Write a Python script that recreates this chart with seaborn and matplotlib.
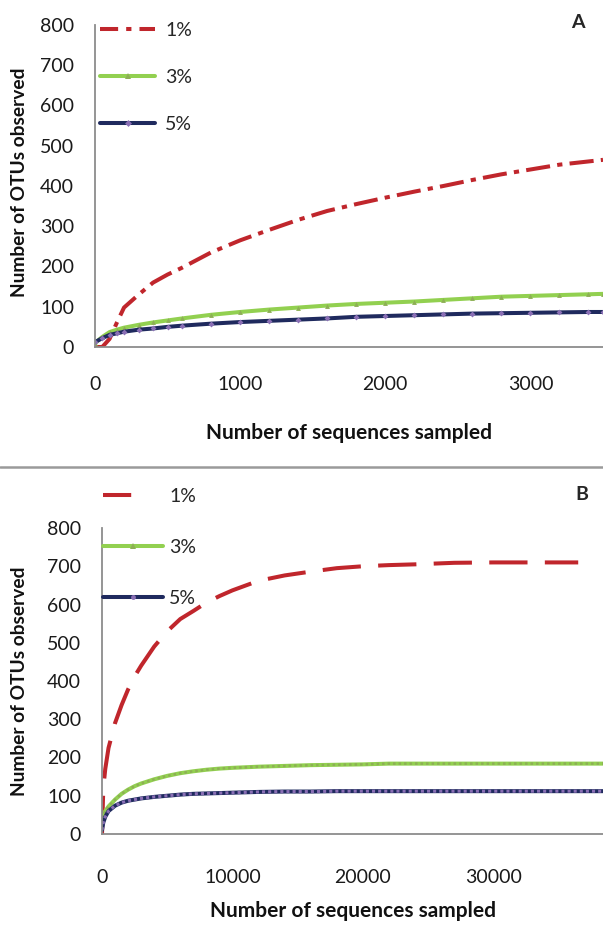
import matplotlib
matplotlib.use("Agg")
import matplotlib.pyplot as plt
import seaborn as sns
from matplotlib.lines import Line2D

# ---------------- data ----------------
a_x = [0, 50, 100, 150, 200, 300, 400, 500, 600, 800, 1000, 1200, 1400, 1600,
       1800, 2000, 2200, 2400, 2600, 2800, 3000, 3200, 3400, 3500]
a_1pct = [0, 0, 20, 60, 98, 130, 160, 180, 197, 235, 265, 291, 316, 338,
          355, 371, 386, 400, 415, 429, 441, 453, 461, 465]
a_3pct = [10, 25, 37, 43, 48, 55, 61, 66, 71, 80, 87, 93, 98, 103,
          107, 110, 113, 117, 121, 125, 127, 129, 131, 132]
a_5pct = [12, 22, 30, 34, 38, 43, 46, 50, 53, 58, 62, 65, 68, 71,
          75, 77, 79, 81, 83, 84, 85, 86, 87, 87]

b_x = [0, 100, 250, 500, 1000, 1500, 2000, 2500, 3000, 4000, 5000, 6000, 7000,
       8000, 9000, 10000, 12000, 14000, 16000, 18000, 20000, 22000, 24000,
       27000, 30000, 33000, 36500, 38400]
b_1pct = [0, 120, 170, 225, 290, 337, 378, 412, 440, 490, 530, 562, 583,
          605, 622, 637, 662, 676, 686, 695, 700, 703, 705,
          709, 710, 710, 710, None]
b_3pct = [40, 50, 60, 72, 90, 105, 116, 125, 132, 143, 152, 159, 164,
          168, 171, 173, 176, 178, 180, 181, 182, 184, 184,
          184, 184, 184, 184, 184]
b_5pct = [10, 30, 45, 60, 74, 82, 87, 90, 93, 97, 100, 103, 105,
          106, 107, 108, 110, 111, 111, 112, 112, 112, 112,
          112, 112, 112, 112, 112]

series_labels = ["1%", "3%", "5%"]
y_ticks = [0, 100, 200, 300, 400, 500, 600, 700, 800]
a_xticks = [0, 1000, 2000, 3000]
b_xticks = [0, 10000, 20000, 30000]
x_title = "Number of sequences sampled"
y_title = "Number of OTUs observed"
panel_letters = ["A", "B"]

# ---------------- style ----------------
sns.set_theme(style="white")
plt.rcParams["font.family"] = ["Lato", "DejaVu Sans"]

RED = "#C0262C"
GREEN = "#92D050"
GREEN_MK = "#8DAF55"
NAVY = "#1F2A5E"
PURPLE = "#8A6FB5"
SPINE = "#8C8C8C"

W, H = 603, 926
fig = plt.figure(figsize=(W / 100, H / 100), dpi=100)


def axes_px(left, top, right, bottom):
    return fig.add_axes([left / W, 1 - bottom / H, (right - left) / W, (bottom - top) / H])


axA = axes_px(95, 25, 603, 347)
axB = axes_px(102, 528, 603, 834)

LW = 2.9
dashdot = (0, (6, 1.8, 1.3, 1.8))
longdash = (0, (9.5, 4.3))

# Panel A
sns.lineplot(x=a_x, y=a_1pct, ax=axA, color=RED, lw=LW, linestyle=dashdot)
sns.lineplot(x=a_x, y=a_3pct, ax=axA, color=GREEN, lw=LW)
sns.lineplot(x=a_x, y=a_3pct, ax=axA, color=GREEN_MK, lw=0, marker="^",
             markersize=3.5, markeredgewidth=0)
sns.lineplot(x=a_x, y=a_5pct, ax=axA, color=NAVY, lw=LW)
sns.lineplot(x=a_x, y=a_5pct, ax=axA, color=PURPLE, lw=0, marker="D",
             markersize=3, markeredgewidth=0)

# Panel B
bx1 = [x for x, v in zip(b_x, b_1pct) if v is not None]
by1 = [v for v in b_1pct if v is not None]
sns.lineplot(x=bx1, y=by1, ax=axB, color=RED, lw=LW, linestyle=longdash)
sns.lineplot(x=b_x, y=b_3pct, ax=axB, color=GREEN, lw=LW)
sns.lineplot(x=b_x, y=b_3pct, ax=axB, color=GREEN_MK, lw=1.8, linestyle=(0, (1, 1.2)))
sns.lineplot(x=b_x, y=b_5pct, ax=axB, color=NAVY, lw=LW)
sns.lineplot(x=b_x, y=b_5pct, ax=axB, color=PURPLE, lw=2.2, linestyle=(0, (1, 1)))

for ax, xt, xmax, xpad in [(axA, a_xticks, 3500, 21), (axB, b_xticks, 38400, 25)]:
    ax.set_xlim(0, xmax)
    ax.set_ylim(0, 800)
    ax.set_xticks(xt)
    ax.set_yticks(y_ticks)
    ax.set_xticklabels([str(v) for v in xt])
    ax.set_yticklabels([str(v) for v in y_ticks])
    for s in ["top", "right"]:
        ax.spines[s].set_visible(False)
    for s in ["left", "bottom"]:
        ax.spines[s].set_color(SPINE)
        ax.spines[s].set_linewidth(1.3)
    ax.tick_params(axis="both", length=0, labelsize=14, colors="#1a1a1a")
    ax.tick_params(axis="y", pad=15)
    ax.tick_params(axis="x", pad=xpad)
    ax.set_xlabel(x_title, fontsize=15, fontweight="bold", color="#111111")
    ax.set_ylabel(y_title, fontsize=13.8, fontweight="bold", color="#111111")
    ax.xaxis.label.set_va("center")
    ax.yaxis.label.set_va("center")
    ax.set_facecolor("white")

axA.xaxis.set_label_coords(0.5, (347 - 433) / 322)
axA.yaxis.set_label_coords((20 - 95) / 508, (347 - 182) / 322)
axB.xaxis.set_label_coords(0.5, (834 - 911) / 306)
axB.yaxis.set_label_coords((20 - 102) / 501, 0.5)

# legends
hA = [Line2D([], [], color=RED, lw=LW, linestyle=(0, (4.5, 2.0, 1.3, 2.0))),
      Line2D([], [], color=GREEN, lw=LW, marker="^", markersize=4,
             markerfacecolor=GREEN_MK, markeredgewidth=0),
      Line2D([], [], color=NAVY, lw=LW, marker="D", markersize=3.5,
             markerfacecolor=PURPLE, markeredgewidth=0)]
legA = fig.legend(handles=hA, labels=series_labels, loc="upper left",
                  bbox_to_anchor=(100 / W, 1 - 22 / H), frameon=False,
                  fontsize=14, handlelength=2.85, handletextpad=0.5,
                  labelspacing=1.55, borderpad=0, borderaxespad=0)
hB = [Line2D([], [], color=RED, lw=LW, linestyle=(0, (7, 20))),
      Line2D([], [], color=GREEN, lw=LW, marker="^", markersize=4,
             markerfacecolor=GREEN_MK, markeredgewidth=0),
      Line2D([], [], color=NAVY, lw=LW, marker="o", markersize=3.5,
             markerfacecolor=PURPLE, markeredgewidth=0)]
legB = fig.legend(handles=hB, labels=series_labels, loc="upper left",
                  bbox_to_anchor=(103 / W, 1 - 488 / H), frameon=False,
                  fontsize=14, handlelength=3.1, handletextpad=0.3,
                  labelspacing=1.75, borderpad=0, borderaxespad=0)

# panel letters
fig.text(578 / W, 1 - 22 / H, panel_letters[0], fontsize=14, fontweight="bold",
         ha="center", va="center")
fig.text(582 / W, 1 - 495 / H, panel_letters[1], fontsize=14, fontweight="bold",
         ha="center", va="center")

# separator between the two panels
fig.add_artist(Line2D([0, 1], [1 - 467 / H, 1 - 467 / H], transform=fig.transFigure,
                      color="#9A9A9A", lw=1.8))

fig.savefig("out.png", dpi=100, facecolor="white")
